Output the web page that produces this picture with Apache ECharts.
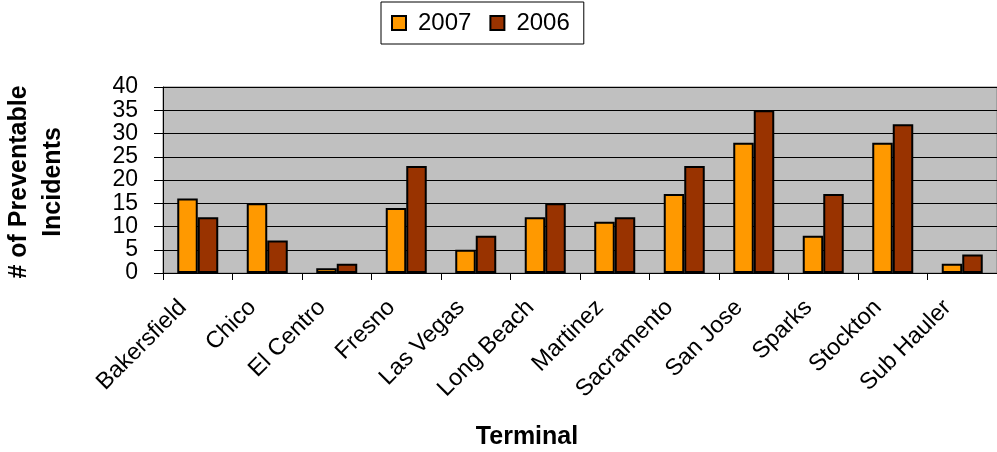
<!DOCTYPE html>
<html>
<head>
<meta charset="utf-8">
<script src="https://cdn.jsdelivr.net/npm/echarts@6/dist/echarts.min.js"></script>
<style>
html,body{margin:0;padding:0;background:#fff;}
#chart{width:997px;height:452px;}
</style>
</head>
<body>
<div id="chart"></div>
<script>
const categories = ['Bakersfield','Chico','El Centro','Fresno','Las Vegas','Long Beach','Martinez','Sacramento','San Jose','Sparks','Stockton','Sub Hauler'];
const values2007 = [16,15,1,14,5,12,11,17,28,8,28,2];
const values2006 = [12,7,2,23,8,15,12,23,35,17,32,4];
const seriesNames = ['2007','2006'];
const yTicks = {min:0, max:40, interval:5};
const xTitle = 'Terminal';
const yTitle = '# of Preventable\nIncidents';

const FONT = "'Liberation Sans', Arial, sans-serif";
const chart = echarts.init(document.getElementById('chart'), null, {renderer:'canvas'});
chart.setOption({
  animation:false,
  backgroundColor:'#fff',
  grid:{left:163, top:87, bottom:179, right:-8, show:true, backgroundColor:'#C0C0C0', borderColor:'#808080', borderWidth:1, containLabel:false},
  legend:{
    left:381, top:2, padding:[9,14,9,10], itemGap:18, itemWidth:14, itemHeight:14, icon:'rect',
    borderColor:'#000', borderWidth:1, backgroundColor:'#fff',
    textStyle:{fontSize:24, color:'#000', fontFamily:FONT, padding:[0,0,0,7]},
    data:seriesNames
  },
  xAxis:{
    type:'category', data:categories,
    axisLine:{lineStyle:{color:'#000', width:1}},
    axisTick:{show:true, length:7, lineStyle:{color:'#000'}},
    axisLabel:{rotate:45, fontSize:23.5, color:'#000', fontFamily:FONT, margin:16, interval:0, padding:[0,21,0,0]}
  },
  yAxis:{
    type:'value', min:yTicks.min, max:yTicks.max, interval:yTicks.interval,
    axisLine:{show:true, lineStyle:{color:'#000', width:1}},
    axisTick:{show:true, length:9, lineStyle:{color:'#000'}},
    splitLine:{show:true, lineStyle:{color:'#000', width:1}},
    axisLabel:{fontSize:23, color:'#000', fontFamily:FONT, margin:25}
  },
  graphic:[
    {type:'text', x:527, y:437, style:{text:xTitle, font:'bold 25px '+FONT, fill:'#000', textAlign:'center', textVerticalAlign:'middle'}},
    {type:'text', x:36, y:182, rotation:Math.PI/2, style:{text:yTitle, font:'bold 25px '+FONT, fill:'#000', textAlign:'center', textVerticalAlign:'middle', lineHeight:34}}
  ],
  series:[
    {name:seriesNames[0], type:'bar', data:values2007, barGap:'0%', barCategoryGap:'41%', itemStyle:{color:'#FF9900', borderColor:'#000', borderWidth:2}},
    {name:seriesNames[1], type:'bar', data:values2006, barGap:'0%', barCategoryGap:'41%', itemStyle:{color:'#993300', borderColor:'#000', borderWidth:2}}
  ]
});
</script>
</body>
</html>
